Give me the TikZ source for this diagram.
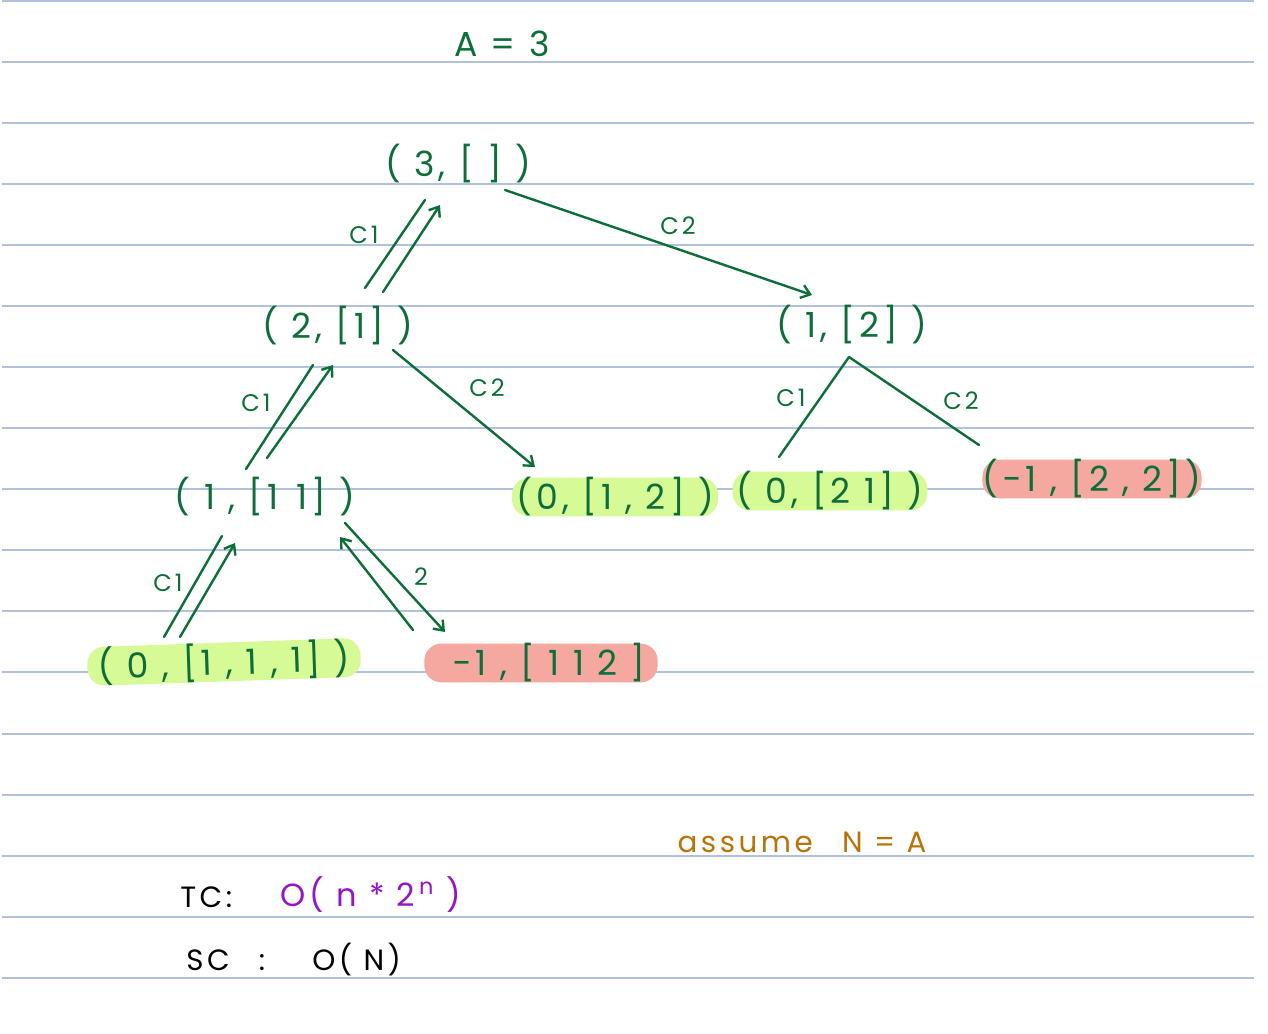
\documentclass[tikz,border=0pt]{standalone}
\usepackage{fontspec}
\setmainfont{Poppins}
\newfontfamily\hand[LetterSpace=12]{Poppins}
\usetikzlibrary{arrows.meta}
\definecolor{ink}{RGB}{14,110,58}
\definecolor{rule}{RGB}{176,194,220}
\definecolor{hlgreen}{RGB}{214,250,150}
\definecolor{hlred}{RGB}{244,168,160}
\definecolor{tcpurple}{RGB}{150,20,200}
\definecolor{brown}{RGB}{184,116,10}
\tikzset{
  ruleline/.style={draw=rule, line width=1.1pt},
  tn/.style={text=ink, font=\hand\fontsize{26}{30}\selectfont, inner sep=0pt},
  lbl/.style={text=ink, font=\hand\fontsize{18}{20}\selectfont, inner sep=0pt},
  edge/.style={draw=ink, line width=1.8pt, line cap=round},
  aedge/.style={edge, -{Straight Barb[length=6.5pt,width=10pt]}},
  hl/.style={rounded corners=12.75pt, minimum height=25.5pt},
}
\begin{document}
\begin{tikzpicture}[x=0.75pt,y=-0.75pt]
\useasboundingbox (0,0) rectangle (1268,1034);
\fill[white] (0,0) rectangle (1268,1034);
\foreach \yy in {1,62,123,184,245,306,367,428,489,550,611,672,734,795,856,917,978}
  \draw[ruleline] (2,\yy) -- (1254,\yy);

% title
\node[tn] (title) at (502,44) {A = 3};

% highlights + nodes
\node[tn] (root) at (458,164) {( 3, [ ] )};
\node[tn] (n2) at (338,326) {( 2, [1] )};
\node[tn] (n1b) at (852,325) {( 1, [2] )};
\node[tn] (n3) at (265,497) {( 1 , [1\,\,\,1] )};
\node[tn, hl, fill=hlgreen, minimum width=154.5pt] (n4) at (615,497) {(0, [1 , 2] )};
\node[tn, hl, fill=hlgreen, minimum width=146pt] (n5) at (830,491) {( 0, [2 1] )};
\node[tn, hl, fill=hlred, minimum width=164pt] (n6) at (1092,479) {(−1 , [2 , 2])};
\node[tn, hl, fill=hlgreen, minimum width=205pt, minimum height=28pt, rotate=2] (n7) at (224,662) {( 0 , [1 , 1 , 1] )};
\node[tn, hl, fill=hlred, minimum width=175pt] (n8) at (541,663) {\hspace{12pt}−1 , [ 1 1 2 ]};

% edges root -> n2
\draw[edge] ([shift={(27,-38)}]n2.center) -- ([shift={(-33,36)}]root.center);
\draw[aedge] ([shift={(45,-34)}]n2.center) -- ([shift={(-18,41)}]root.center);
\node[lbl] (l1) at (364,235) {C1};
% root -> n1b
\draw[aedge] ([shift={(47,26)}]root.center) -- ([shift={(-40,-30)}]n1b.center);
\node[lbl] (l2) at (678,226) {C2};
% n2 -> n3
\draw[edge] ([shift={(-19,-28)}]n3.center) -- ([shift={(-25,39)}]n2.center);
\draw[aedge] ([shift={(2,-39)}]n3.center) -- ([shift={(-5,39)}]n2.center);
\node[lbl] (l3) at (256,403) {C1};
% n2 -> n4
\draw[aedge] ([shift={(55,24)}]n2.center) -- ([shift={(-80,-30)}]n4.center);
\node[lbl] (l4) at (487,388) {C2};
% n1b -> n5, n6
\draw[edge] ([shift={(-3,32)}]n1b.center) -- ([shift={(-51,-34)}]n5.center);
\draw[edge] ([shift={(-3,32)}]n1b.center) -- ([shift={(-113,-34)}]n6.center);
\node[lbl] (l5) at (791,398) {C1};
\node[lbl] (l6) at (961,401) {C2};
% n3 -> n7
\draw[edge] ([shift={(-60,-25)}]n7.center) -- ([shift={(-43,39)}]n3.center);
\draw[aedge] ([shift={(-44,-25)}]n7.center) -- ([shift={(-30,46)}]n3.center);
\node[lbl] (l7) at (168,583) {C1};
% n3 -> n8
\draw[aedge] ([shift={(-128,-33)}]n8.center) -- ([shift={(75,40)}]n3.center);
\draw[aedge] ([shift={(80,26)}]n3.center) -- ([shift={(-96,-31)}]n8.center);
\node[lbl] (l8) at (421,577) {2};

% bottom notes
\node[font=\hand\fontsize{22}{26}\selectfont, text=brown, inner sep=0pt] (assume) at (802,842) {assume\quad N = A};
\node[font=\hand\fontsize{22}{26}\selectfont, text=black, inner sep=0pt, anchor=west] (tc) at (180,897) {TC:};
\node[font=\hand\fontsize{24}{28}\selectfont, text=tcpurple, inner sep=0pt, anchor=west] (tcv) at (280,895) {O( n * 2\textsuperscript{\,n} )};
\node[font=\hand\fontsize{22}{26}\selectfont, text=black, inner sep=0pt, anchor=west] (sc) at (186,960) {SC\quad :};
\node[font=\hand\fontsize{22}{26}\selectfont, text=black, inner sep=0pt, anchor=west] (scv) at (312,960) {O( N)};
\end{tikzpicture}
\end{document}
